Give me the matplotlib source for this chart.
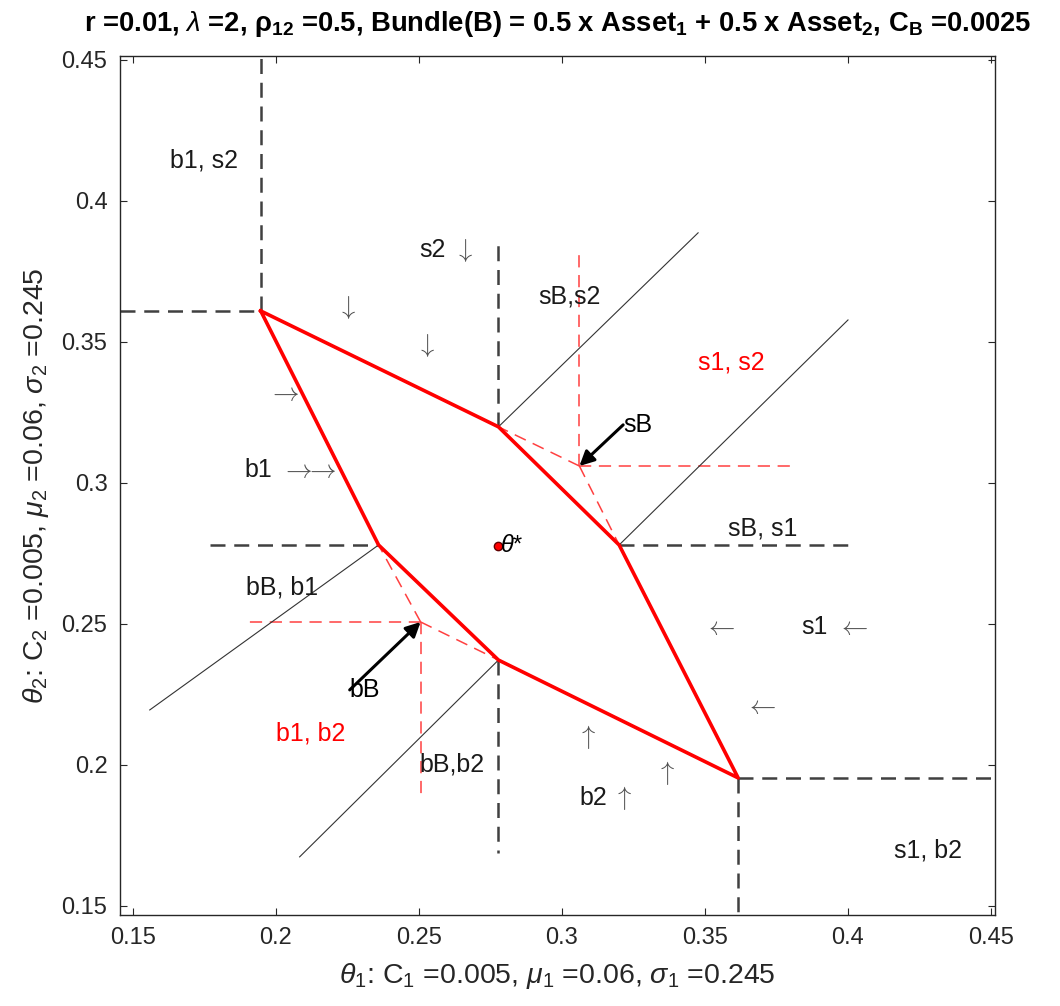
import matplotlib.pyplot as plt

plt.rcParams['font.family'] = ['Liberation Sans', 'DejaVu Sans']
plt.rcParams['mathtext.fontset'] = 'custom'
plt.rcParams['mathtext.rm'] = 'Liberation Sans'
plt.rcParams['mathtext.it'] = 'Liberation Sans:italic'
plt.rcParams['mathtext.bf'] = 'Liberation Sans:bold'

# optimum and no-trade region (red polygon)
theta_star = 0.2777
region_x = [0.1947, 0.2778, 0.3200, 0.3616, 0.2778, 0.2359, 0.1947]
region_y = [0.3610, 0.3199, 0.2780, 0.1954, 0.2372, 0.2780, 0.3610]

# single-asset trade boundaries (black dashed)
bound_x = [[0.1947, 0.1947], [0.1455, 0.1947], [0.2778, 0.2778], [0.1769, 0.2359],
           [0.2778, 0.2778], [0.3200, 0.4003], [0.3616, 0.4514], [0.3616, 0.3616]]
bound_y = [[0.3610, 0.4515], [0.3610, 0.3610], [0.3199, 0.3872], [0.2780, 0.2780],
           [0.2372, 0.1688], [0.2780, 0.2780], [0.1954, 0.1954], [0.1954, 0.1468]]

# bundle trade targets and their guide lines (red dashed)
bB = (0.2506, 0.2507)
sB = (0.3061, 0.3060)
guide_x = [[bB[0], 0.1902], [bB[0], bB[0]], [bB[0], 0.2359], [bB[0], 0.2778],
           [sB[0], sB[0]], [sB[0], 0.3818], [sB[0], 0.2778], [sB[0], 0.3200]]
guide_y = [[bB[1], bB[1]], [bB[1], 0.1894], [bB[1], 0.2780], [bB[1], 0.2372],
           [sB[1], 0.3826], [sB[1], sB[1]], [sB[1], 0.3199], [sB[1], 0.2780]]

# diagonal boundaries of bundle regions (thin solid)
diag_x = [[0.2778, 0.3476], [0.3200, 0.4000], [0.2359, 0.1559], [0.2778, 0.2083]]
diag_y = [[0.3199, 0.3887], [0.2780, 0.3578], [0.2780, 0.2195], [0.2372, 0.1674]]

# bundle trade arrows: tail, head
bB_tail = (0.2258, 0.2266)
sB_tail = (0.3214, 0.3206)

region_labels = [
    ('b1, s2', 0.1629, 0.4145, 'k'),
    ('s2', 0.2502, 0.3826, 'k'),
    ('sB,s2', 0.2918, 0.3660, 'k'),
    ('s1, s2', 0.3476, 0.3426, 'r'),
    ('b1', 0.1891, 0.3046, 'k'),
    ('sB, s1', 0.3581, 0.2840, 'k'),
    ('bB, b1', 0.1895, 0.2631, 'k'),
    ('s1', 0.3836, 0.2489, 'k'),
    ('b1, b2', 0.1999, 0.2113, 'r'),
    ('bB,b2', 0.2502, 0.2000, 'k'),
    ('b2', 0.3061, 0.1883, 'k'),
    ('s1, b2', 0.4161, 0.1695, 'k'),
]
R, L, U, D = r'$\rightarrow$', r'$\leftarrow$', r'$\uparrow$', r'$\downarrow$'
RR = r'$\rightarrow\!\!\!\rightarrow$'
dir_marks = [
    (D, 0.2656, 0.3826),
    (RR, 0.2115, 0.3046),
    (L, 0.4016, 0.2489),
    (U, 0.3214, 0.1883),
    (R, 0.2027, 0.3319),
    (D, 0.2247, 0.3621),
    (D, 0.2523, 0.3489),
    (L, 0.3550, 0.2489),
    (L, 0.3696, 0.2209),
    (U, 0.3085, 0.2099),
    (U, 0.3361, 0.1972),
]

fig = plt.figure(figsize=(10.6, 10.06), dpi=100)
ax = fig.add_axes([0.1132, 0.0905, 0.8255, 0.8541])

for xs, ys in zip(bound_x, bound_y):
    ax.plot(xs, ys, '--', color='#404040', lw=1.8, dashes=(6, 3.5))
for xs, ys in zip(guide_x, guide_y):
    ax.plot(xs, ys, '--', color='#ff4040', lw=1.1, dashes=(8, 5))
for xs, ys in zip(diag_x, diag_y):
    ax.plot(xs, ys, '-', color='#333333', lw=0.8)

ax.plot(region_x, region_y, '-', color='#ff0000', lw=2.6)
ax.plot(theta_star, theta_star, 'o', color='#ff0000', mec='#600000', ms=6)
ax.text(theta_star + 0.0005, theta_star, r'$\theta$*', fontsize=17,
        ha='left', va='center')

for tail, head, name in [(bB_tail, bB, 'bB'), (sB_tail, sB, 'sB')]:
    ax.annotate('', xy=head, xytext=tail,
                arrowprops=dict(arrowstyle='-|>', color='k', lw=2.2,
                                mutation_scale=22, shrinkA=0, shrinkB=0))
    ax.text(tail[0], tail[1], name, fontsize=18, ha='left', va='center')

for txt, x, y, c in region_labels:
    ax.text(x, y, txt, fontsize=18, ha='left', va='center',
            color='#ff0000' if c == 'r' else '#1a1a1a')
for txt, x, y in dir_marks:
    ax.text(x, y, txt, fontsize=19, ha='center', va='center', color='#505050',
            math_fontfamily='cm')

ax.set_xlim(0.1455, 0.4514)
ax.set_ylim(0.1468, 0.4515)
ax.set_xticks([0.15, 0.2, 0.25, 0.3, 0.35, 0.4, 0.45])
ax.set_yticks([0.15, 0.2, 0.25, 0.3, 0.35, 0.4, 0.45])
ax.set_xticklabels(['0.15', '0.2', '0.25', '0.3', '0.35', '0.4', '0.45'])
ax.set_yticklabels(['0.15', '0.2', '0.25', '0.3', '0.35', '0.4', '0.45'])
ax.tick_params(direction='in', top=True, right=True, length=5,
               labelsize=17, colors='#262626', pad=9)
for sp in ax.spines.values():
    sp.set_color('#262626')
    sp.set_linewidth(1.0)

ax.set_xlabel(r'$\theta_1$: C$_1$ =0.005, $\mu_1$ =0.06, $\sigma_1$ =0.245',
              fontsize=20.5, color='#262626', labelpad=8)
ax.set_ylabel(r'$\theta_2$: C$_2$ =0.005, $\mu_2$ =0.06, $\sigma_2$ =0.245',
              fontsize=20.5, color='#262626', labelpad=8)
ax.set_title(r'r =0.01, $\lambda$ =2, $\mathbf{\rho_{12}}$ =0.5, '
             r'Bundle(B) = 0.5 x Asset$\mathbf{_1}$ + 0.5 x Asset$\mathbf{_2}$, '
             r'C$\mathbf{_B}$ =0.0025',
             fontsize=19.7, fontweight='bold', pad=18)

fig.savefig('out.png', dpi=100)
